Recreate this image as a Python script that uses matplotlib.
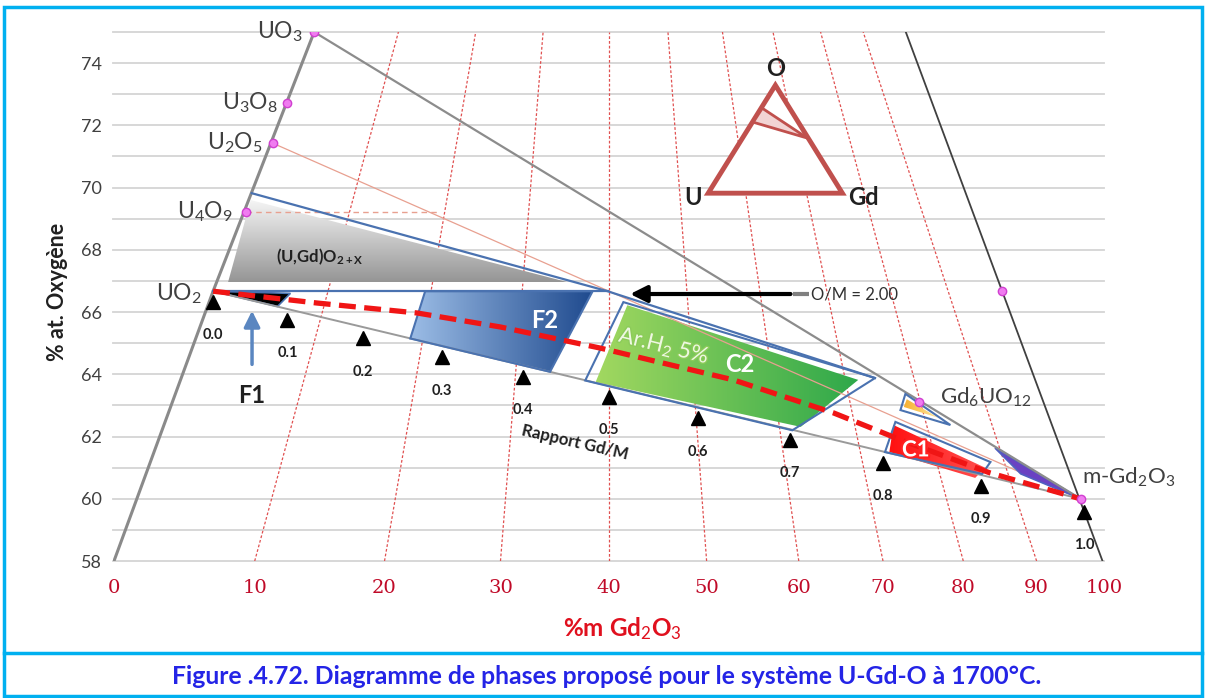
import numpy as np
import matplotlib
matplotlib.use("Agg")
import matplotlib.pyplot as plt
from matplotlib.patches import Polygon, Rectangle
from matplotlib.lines import Line2D
from matplotlib.colors import LinearSegmentedColormap
import matplotlib.patheffects as pe

plt.rcParams['font.family'] = ['Lato', 'DejaVu Sans']
plt.rcParams['mathtext.fontset'] = 'custom'
plt.rcParams['mathtext.rm'] = 'Lato'
plt.rcParams['mathtext.it'] = 'Lato:italic'
plt.rcParams['mathtext.bf'] = 'Lato:bold'

# horizontal position of the %m Gd2O3 graduations (linear x scale 0-100)
wt_labels = ["0", "10", "20", "30", "40", "50", "60", "70", "80", "90", "100"]
wt_pos = [0.1, 14.3, 27.4, 39.1, 50.0, 59.9, 69.2, 77.7, 85.8, 93.2, 100.0]
# red dotted iso-%m lines: x at 58 %O and at 75 %O
iso_bottom = [14.3, 27.4, 39.1, 50.0, 59.9, 69.2, 77.7, 85.8, 93.2]
iso_top = [28.8, 36.6, 43.4, 50.0, 56.0, 61.5, 66.6, 71.4, 75.7]

# uranium oxides on the U-O side
oxide_names = ["UO$_3$", "U$_3$O$_8$", "U$_2$O$_5$", "U$_4$O$_9$", "UO$_2$"]
oxide_x = [20.3, 17.6, 16.1, 13.4, 10.1]
oxide_o = [75.0, 72.73, 71.43, 69.23, 66.67]

# other compounds
gd6uo12 = (81.3, 63.1)
gdo2 = (89.75, 66.67)
gd2o3 = (97.63, 60.0)

# Gd/M ratio marks along UO2 - Gd2O3
ratio_labels = ["0.0", "0.1", "0.2", "0.3", "0.4", "0.5", "0.6", "0.7", "0.8", "0.9", "1.0"]
ratio_x = [10.1, 17.6, 25.2, 33.2, 41.4, 50.0, 59.0, 68.3, 77.7, 87.6, 98.0]
ratio_o = [66.32, 65.74, 65.16, 64.55, 63.91, 63.27, 62.59, 61.89, 61.15, 60.41, 59.57]

# red dashed curve
om_x = [10.1, 20.6, 30.7, 39.1, 49.2, 62.6, 72.7, 79.5, 88.5, 97.6]
om_o = [66.67, 66.29, 65.97, 65.52, 64.84, 63.82, 62.76, 61.89, 60.83, 60.0]

# domains
gray_fill = [(13.9, 69.6), (46.0, 66.95), (11.6, 66.95)]
f1_zone = [(10.1, 66.67), (17.9, 66.6), (16.6, 66.18)]
f2_zone = [(31.5, 66.67), (48.4, 66.67), (44.1, 64.08), (30.0, 65.15)]
c2_zone = [(51.5, 66.32), (76.9, 63.88), (68.55, 62.2), (47.65, 63.8)]
c2_fill = [(51.9, 66.22), (75.2, 63.82), (69.4, 62.31), (48.7, 63.75)]
c1_zone = [(78.95, 62.47), (88.54, 61.18), (87.7, 60.8), (77.9, 61.5)]
c1_fill = [(78.75, 62.37), (88.0, 61.0), (87.0, 60.67), (78.34, 61.5)]
gd6_zone = [(79.96, 63.37), (79.46, 62.85), (84.5, 62.37)]
gd6_fill = [(80.1, 63.2), (79.8, 62.95), (83.3, 62.6)]
purple_zone = [(89.0, 61.63), (97.63, 60.0), (91.6, 60.8)]

# inset triangle U-O-Gd
tri_x = [60.06, 66.84, 73.6]
tri_o = [69.82, 73.29, 69.82]
tri_shade = [(65.52, 72.55), (70.07, 71.59), (64.61, 72.1)]

BLUE = '#4A72B0'


def gradient_fill(ax, pts, c0, c1, horizontal=True, z=2, alpha=1.0):
    poly = Polygon(pts, closed=True, facecolor='none', edgecolor='none')
    ax.add_patch(poly)
    xs = [p[0] for p in pts]
    ys = [p[1] for p in pts]
    cmap = LinearSegmentedColormap.from_list('g', [c0, c1])
    g = np.linspace(0, 1, 256)
    img = np.tile(g, (2, 1)) if horizontal else np.tile(g[:, None], (1, 2))
    im = ax.imshow(img, cmap=cmap, extent=(min(xs), max(xs), min(ys), max(ys)),
                   origin='lower', aspect='auto', zorder=z, alpha=alpha,
                   interpolation='bilinear')
    im.set_clip_path(poly)


fig = plt.figure(figsize=(12.06, 6.98), dpi=100)
ax = fig.add_axes([113 / 1206, 1 - 561 / 698, 991 / 1206, 529 / 698])

# grid
for v in range(58, 76):
    ax.axhline(v, color='#D4D4D4', lw=1.3, zorder=0, clip_on=False)

# iso %m lines
for xb, xt in zip(iso_bottom, iso_top):
    ax.plot([xb, xt], [58, 75], color='#E05050', lw=0.9, ls=(0, (2.2, 1.6)), zorder=1)

# filled domains
gradient_fill(ax, gray_fill, '#959595', '#F6F6F6', horizontal=False)
gradient_fill(ax, f2_zone, '#9CBDE6', '#1F4A8E')
gradient_fill(ax, c2_fill, '#A2D860', '#2EA84A')
gradient_fill(ax, c1_fill, '#FF1010', '#FF5050')
gradient_fill(ax, gd6_fill, '#F7B030', '#FFE9A0')
ax.add_patch(Polygon(f1_zone, closed=True, facecolor='black', edgecolor=BLUE, lw=1.2, zorder=3))
ax.add_patch(Polygon(purple_zone, closed=True, facecolor='#6A42C2', edgecolor='#5060C0', lw=1.2, zorder=3))

# binary and tie lines
ax.plot([0.1, oxide_x[4], oxide_x[0]], [58, oxide_o[4], oxide_o[0]], color='#8A8A8A', lw=2.2, zorder=3)
ax.plot([80.0, 99.85], [75, 58], color='#404040', lw=1.3, zorder=3)
ax.plot([oxide_x[0], gd2o3[0]], [oxide_o[0], gd2o3[1]], color='#8C8C8C', lw=1.6, zorder=3)
ax.plot([oxide_x[4], gd2o3[0]], [oxide_o[4], gd2o3[1]], color='#9A9A9A', lw=1.4, zorder=3)
ax.plot([oxide_x[2], gd2o3[0]], [oxide_o[2], gd2o3[1]], color='#E8A090', lw=0.9, zorder=2)
ax.plot([oxide_x[3], 32.7], [oxide_o[3], oxide_o[3]], color='#E8A090', lw=1.0, ls=(0, (4, 3)), zorder=2)

# blue boundaries
ax.plot([14.0, 49.9, 76.9], [69.82, 66.67, 63.88], color=BLUE, lw=1.6, zorder=3)
ax.plot([oxide_x[4], 49.9], [66.67, 66.67], color=BLUE, lw=1.6, zorder=3)
for zone in (f2_zone, c2_zone, c1_zone, gd6_zone):
    ax.add_patch(Polygon(zone, closed=True, facecolor='none', edgecolor=BLUE, lw=1.5, zorder=3))

# red dashed curve
ax.plot(om_x, om_o, color='#F01515', lw=3.8, ls=(0, (3.2, 1.6)), zorder=4)

# Gd/M marks
ax.plot(ratio_x, ratio_o, ls='none', marker='^', ms=10, color='black', zorder=5)
for lab, x, y in zip(ratio_labels, ratio_x, ratio_o):
    ax.annotate(lab, (x, y), xytext=(0, -24), textcoords='offset points',
                ha='center', va='center', fontsize=10.5, fontweight='bold', color='#202020', zorder=6)

# compound points
pink_x = oxide_x[:4] + [gd6uo12[0], gdo2[0], gd2o3[0]]
pink_o = oxide_o[:4] + [gd6uo12[1], gdo2[1], gd2o3[1]]
ax.plot(pink_x, pink_o, ls='none', marker='o', ms=6, mfc='#F07CF0', mec='#D040D0', mew=1, zorder=6)

offsets = [(-8.5, 0), (-6.5, 0), (-7, 0), (-9, 0), (-8, -2)]
for name, x, y, off in zip(oxide_names, oxide_x, oxide_o, offsets):
    ax.annotate(name, (x, y), xytext=off, textcoords='offset points',
                ha='right', va='center', fontsize=16.5, color='#404040', zorder=6)
ax.text(83.5, 63.27, "Gd$_6$UO$_{12}$", ha='left', va='center', fontsize=16, color='#404040', zorder=6)
ax.text(97.83, 60.7, "m-Gd$_2$O$_3$", ha='left', va='center', fontsize=16, color='#404040', zorder=6)

# domain labels
ax.text(20.9, 67.77, r"(U,Gd)O$_{\mathbf{2+X}}$", ha='center', va='center', fontsize=12,
        fontweight='bold', color='#202020', zorder=6)
ax.text(43.6, 65.74, "F2", ha='center', va='center', fontsize=17, fontweight='bold', color='white', zorder=6)
ax.text(55.6, 64.88, "Ar.H$_2$ 5%", ha='center', va='center', fontsize=16, color='#EEF8E2',
        rotation=-14, zorder=6, path_effects=[pe.withStroke(linewidth=2, foreground='#8CCB5A')])
ax.text(63.3, 64.3, "C2", ha='center', va='center', fontsize=17, fontweight='bold', color='white', zorder=6)
ax.text(81.0, 61.57, "C1", ha='center', va='center', fontsize=16, fontweight='bold', color='white', zorder=6,
        path_effects=[pe.withStroke(linewidth=3, foreground='#FF2020')])
ax.text(46.6, 61.82, "Rapport Gd/M", ha='center', va='center', fontsize=12, fontweight='bold',
        color='#202020', rotation=-13, zorder=6)

# F1 arrow
ax.annotate("", xy=(14.03, 66.13), xytext=(14.03, 64.23),
            arrowprops=dict(arrowstyle='-|>', color='#5A86C0', lw=2.5, mutation_scale=24), zorder=6)
ax.text(14.03, 63.33, "F1", ha='center', va='center', fontsize=17, fontweight='bold', color='#202020', zorder=6)

# O/M = 2.00 arrow
ax.plot([68.65, 70.2], [66.58, 66.58], color='#808080', lw=3, zorder=5, solid_capstyle='butt')
ax.annotate("", xy=(51.9, 66.58), xytext=(68.65, 66.58),
            arrowprops=dict(arrowstyle='-|>', color='black', lw=3, mutation_scale=25), zorder=6)
ax.text(70.4, 66.58, "O/M = 2.00", ha='left', va='center', fontsize=12, color='#303030', zorder=6)

# inset triangle
ax.add_patch(Polygon(list(zip(tri_x, tri_o)), closed=True, facecolor='white',
                     edgecolor='#C0504D', lw=3.5, zorder=5, joinstyle='miter'))
ax.add_patch(Polygon(tri_shade, closed=True, facecolor='#F2D4D4', edgecolor='#C0504D', lw=2, zorder=5))
ax.text(tri_x[1], 73.84, "O", ha='center', va='center', fontsize=17, fontweight='bold', color='#202020', zorder=6)
ax.text(58.56, 69.69, "U", ha='center', va='center', fontsize=17, fontweight='bold', color='#202020', zorder=6)
ax.text(75.72, 69.69, "Gd", ha='center', va='center', fontsize=17, fontweight='bold', color='#202020', zorder=6)

# axes
ax.set_xlim(0, 100)
ax.set_ylim(58, 75)
ax.set_xticks(wt_pos)
ax.set_xticklabels(wt_labels, fontsize=14, color='#C00A28', family='DejaVu Serif')
ax.set_yticks(range(58, 76, 2))
ax.set_yticklabels([str(v) for v in range(58, 76, 2)], fontsize=13, color='#404040')
ax.tick_params(axis='x', length=0, pad=13)
ax.tick_params(axis='y', length=0, pad=8)
for s in ax.spines.values():
    s.set_visible(False)

fig.text(58 / 1206, 1 - 292 / 698, "% at. Oxygène", rotation=90, ha='center', va='center',
         fontsize=15.5, fontweight='bold', color='#202020')
fig.text(622 / 1206, 1 - 629 / 698, "%m Gd$_2$O$_3$", ha='center', va='center',
         fontsize=17.5, fontweight='bold', color='#E0101E')

# frame and caption
fig.add_artist(Rectangle((4 / 1206, 2 / 698), 1198 / 1206, 689 / 698, transform=fig.transFigure,
                         facecolor='none', edgecolor='#00B0F0', lw=2.5))
fig.add_artist(Line2D([4 / 1206, 1202 / 1206], [1 - 653 / 698, 1 - 653 / 698],
                      transform=fig.transFigure, color='#00B0F0', lw=2.5))
fig.text(607 / 1206, 1 - 677 / 698,
         "Figure .4.72. Diagramme de phases proposé pour le système U-Gd-O à 1700°C.",
         ha='center', va='center', fontsize=17.8, fontweight='bold', color='#2424E6')

fig.savefig("out.png", dpi=100)
